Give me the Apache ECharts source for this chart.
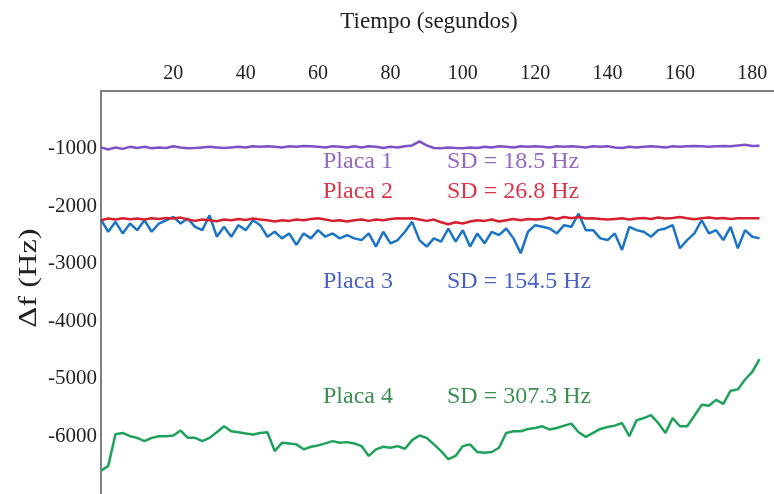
<!DOCTYPE html>
<html>
<head>
<meta charset="utf-8">
<script src="https://cdn.jsdelivr.net/npm/echarts@6/dist/echarts.min.js"></script>
<style>
html,body{margin:0;padding:0;background:#fff;}
#chart{width:774px;height:494px;}
</style>
</head>
<body>
<div id="chart"></div>
<script>
const seconds = [0,2,4,6,8,10,12,14,16,18,20,22,24,26,28,30,32,34,36,38,40,42,44,46,48,50,52,54,56,58,60,62,64,66,68,70,72,74,76,78,80,82,84,86,88,90,92,94,96,98,100,102,104,106,108,110,112,114,116,118,120,122,124,126,128,130,132,134,136,138,140,142,144,146,148,150,152,154,156,158,160,162,164,166,168,170,172,174,176,178,180,182];

const xTicks = [20,40,60,80,100,120,140,160,180];
const yTicks = [-1000,-2000,-3000,-4000,-5000,-6000];

const placa1 = [-980,-1015,-980,-1005,-970,-990,-970,-995,-980,-990,
  -960,-980,-995,-990,-980,-970,-980,-990,-980,-970,
  -980,-960,-970,-960,-970,-980,-960,-970,-955,-960,
  -970,-980,-960,-970,-980,-960,-980,-960,-970,-990,
  -970,-980,-960,-945,-875,-945,-990,-995,-980,-990,
  -995,-980,-990,-970,-980,-960,-970,-980,-960,-970,
  -960,-970,-980,-960,-970,-960,-970,-980,-960,-970,
  -960,-980,-990,-970,-980,-970,-960,-970,-980,-960,
  -970,-960,-955,-960,-970,-960,-955,-960,-945,-935,
  -955,-950];

const placa2 = [-2245,-2216,-2233,-2211,-2228,-2216,-2233,-2211,-2222,-2205,
  -2216,-2199,-2233,-2256,-2233,-2245,-2262,-2233,-2245,-2222,
  -2239,-2216,-2233,-2245,-2268,-2245,-2256,-2233,-2245,-2222,
  -2211,-2233,-2256,-2245,-2268,-2245,-2233,-2256,-2233,-2245,
  -2222,-2211,-2216,-2211,-2233,-2256,-2233,-2279,-2314,-2279,
  -2302,-2268,-2245,-2256,-2233,-2268,-2245,-2222,-2245,-2222,
  -2233,-2222,-2199,-2222,-2188,-2211,-2188,-2216,-2211,-2222,
  -2233,-2222,-2211,-2233,-2216,-2205,-2222,-2199,-2216,-2205,
  -2188,-2211,-2228,-2211,-2199,-2216,-2205,-2222,-2211,-2211,
  -2211,-2211];

const placa3 = [-2233,-2445,-2273,-2474,-2302,-2417,-2245,-2445,-2302,-2245,
  -2187,-2302,-2216,-2359,-2417,-2159,-2531,-2359,-2531,-2331,
  -2417,-2245,-2331,-2531,-2445,-2560,-2474,-2674,-2474,-2560,
  -2417,-2531,-2474,-2560,-2503,-2560,-2589,-2474,-2703,-2445,
  -2646,-2589,-2445,-2273,-2589,-2703,-2560,-2617,-2388,-2617,
  -2417,-2703,-2474,-2646,-2445,-2503,-2388,-2560,-2818,-2445,
  -2331,-2359,-2388,-2474,-2331,-2359,-2130,-2417,-2417,-2560,
  -2589,-2474,-2760,-2359,-2417,-2445,-2531,-2417,-2388,-2331,
  -2732,-2589,-2474,-2245,-2474,-2417,-2589,-2359,-2732,-2417,
  -2531,-2560];

const placa4 = [-6597,-6511,-5961,-5939,-5996,-6025,-6082,-6025,-5996,-5996,
  -5984,-5898,-6025,-6025,-6082,-6025,-5927,-5824,-5910,-5927,
  -5950,-5967,-5939,-5927,-6254,-6111,-6121,-6138,-6224,-6180,
  -6156,-6121,-6082,-6111,-6099,-6121,-6168,-6339,-6224,-6180,
  -6197,-6168,-6214,-6065,-5984,-6025,-6138,-6254,-6396,-6339,
  -6168,-6138,-6271,-6283,-6271,-6197,-5939,-5910,-5910,-5870,
  -5853,-5824,-5881,-5853,-5812,-5778,-5927,-6008,-5939,-5870,
  -5836,-5812,-5767,-5996,-5721,-5681,-5630,-5767,-5939,-5681,
  -5824,-5824,-5640,-5451,-5468,-5365,-5434,-5206,-5183,-5011,
  -4879,-4656];

const seriesNames = ['Placa 1','Placa 2','Placa 3','Placa 4'];
const sdLabels = ['SD = 18.5 Hz','SD = 26.8 Hz','SD = 154.5 Hz','SD = 307.3 Hz'];
const xTitle = 'Tiempo (segundos)';
const yTitle = 'Δf (Hz)';

const lineColors = ['#7b52c6','#d42030','#1b74c4','#1ea15a'];
const textColors = ['#9469c2','#d8364a','#4962c2','#3b8f50'];

function pairs(arr){ return seconds.map((t,i)=>[t, arr[i]]).filter(p=>p[1]!==undefined); }

const serif = '"Liberation Serif", "Times New Roman", serif';
const chart = echarts.init(document.getElementById('chart'), null, {renderer:'canvas'});

const annY = [162, 192, 282, 397];
const graphics = [
  {type:'text', x:429, y:22, style:{text:xTitle, font:'23px ' + serif, fill:'#222', textAlign:'center', textVerticalAlign:'middle'}},
  {type:'text', x:29, y:278, rotation:Math.PI/2, scaleX:1.25, style:{text:yTitle, font:'26px ' + serif, fill:'#222', textAlign:'center', textVerticalAlign:'middle'}}
];
for (let i=0;i<4;i++){
  graphics.push({type:'text', x:323, y:annY[i], style:{text:seriesNames[i], font:'24px ' + serif, fill:textColors[i], textAlign:'left', textVerticalAlign:'middle'}});
  graphics.push({type:'text', x:447, y:annY[i], style:{text:sdLabels[i], font:'24px ' + serif, fill:textColors[i], textAlign:'left', textVerticalAlign:'middle'}});
}

chart.setOption({
  animation:false,
  backgroundColor:'#fff',
  grid:{left:101, top:91, width:673, height:407, containLabel:false},
  xAxis:{
    type:'value', position:'top', min:0, max:186, interval:20,
    axisLine:{show:true, lineStyle:{color:'#808080', width:2}},
    axisTick:{show:false}, splitLine:{show:false},
    axisLabel:{show:true, margin:7, color:'#222', fontFamily:serif, fontSize:20,
      showMinLabel:false, showMaxLabel:false,
      formatter:function(v){ return xTicks.indexOf(v)>=0 ? String(v) : ''; }}
  },
  yAxis:{
    type:'value', min:-7000, max:0, interval:1000,
    axisLine:{show:true, lineStyle:{color:'#808080', width:2}},
    axisTick:{show:false}, splitLine:{show:false},
    axisLabel:{show:true, margin:4, color:'#222', fontFamily:serif, fontSize:21,
      showMinLabel:false, showMaxLabel:false,
      formatter:function(v){ return yTicks.indexOf(v)>=0 ? String(v) : ''; }}
  },
  series:[placa1,placa2,placa3,placa4].map((arr,i)=>({
    name:seriesNames[i], type:'line', data:pairs(arr), showSymbol:false, symbol:'none',
    lineStyle:{color:lineColors[i], width:2.5}, itemStyle:{color:lineColors[i]},
    z: i===1 ? 4 : 3
  })),
  graphic:graphics
});
</script>
</body>
</html>
